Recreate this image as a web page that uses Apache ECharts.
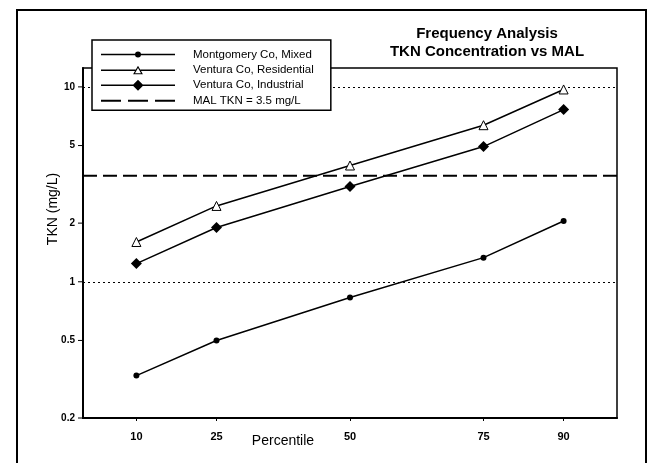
<!DOCTYPE html>
<html>
<head>
<meta charset="utf-8">
<script src="https://cdn.jsdelivr.net/npm/echarts@6/dist/echarts.min.js"></script>
<style>html,body{margin:0;padding:0;background:#fff;}#c{width:657px;height:463px;}</style>
</head>
<body>
<div id="c"></div>
<script>
const percentiles = [10, 25, 50, 75, 90];
const montgomery = [0.33, 0.5, 0.83, 1.33, 2.05];
const residential = [1.6, 2.45, 3.95, 6.36, 9.7];
const industrial = [1.24, 1.9, 3.08, 4.94, 7.65];
const malValue = 3.5;
const yTickLabels = [0.2, 0.5, 1, 2, 5, 10];
const xTickLabels = [10, 25, 50, 75, 90];
const refLines = [1, 10];
const seriesNames = ['Montgomery Co, Mixed', 'Ventura Co, Residential', 'Ventura Co, Industrial', 'MAL TKN = 3.5 mg/L'];

const FONT = 'Liberation Sans, Arial, sans-serif';
const pairs = vals => percentiles.map((p, i) => [p, vals[i]]);

// legend glyphs (line + marker), drawn in a 74 x 12 box
const iconCircle = 'path://M0,5.25H74V6.75H0Z M34,6A3,3 0 1,1 40,6A3,3 0 1,1 34,6Z';
const iconTriangle = 'path://M0,5.25H34.6V6.75H0Z M39.4,5.25H74V6.75H39.4Z M37,1.5L41.9,10L32.1,10Z M37,3.8L34,9L40,9Z';
const iconDiamond = 'path://M0,5.25H74V6.75H0Z M37,0.5L42.5,6L37,11.5L31.5,6Z';
const iconDash = 'path://M0,5H20V7H0Z M27,5H47V7H27Z M54,5H74V7H54Z';
const legendIcons = [iconCircle, iconTriangle, iconDiamond, iconDash];

const chart = echarts.init(document.getElementById('c'));
chart.setOption({
  backgroundColor: '#fff',
  animation: false,
  title: {
    text: 'Frequency Analysis\nTKN Concentration vs MAL',
    left: 482, top: 20, textAlign: 'center',
    textStyle: { fontFamily: FONT, fontSize: 15, fontWeight: 'bold', color: '#000', lineHeight: 18 }
  },
  legend: {
    data: seriesNames.map((n, i) => ({
      name: n, icon: legendIcons[i],
      itemStyle: { color: '#000', borderWidth: 0, borderColor: 'rgba(0,0,0,0)' }
    })),
    orient: 'vertical',
    left: 92, top: 40, z: 10,
    itemWidth: 74, itemHeight: 12, itemGap: 3.4,
    symbolKeepAspect: true,
    padding: [8.5, 17, 3.5, 9],
    borderColor: '#000', borderWidth: 1.5,
    backgroundColor: '#fff',
    textStyle: { fontFamily: FONT, fontSize: 11.5, color: '#000', padding: [0, 0, 0, 13] }
  },
  graphic: [
    { type: 'rect', z: -10, shape: { x: 17, y: 10, width: 629, height: 470 }, style: { fill: 'none', stroke: '#000', lineWidth: 2 } },
    { type: 'text', x: 53, y: 209, rotation: Math.PI / 2, style: { text: 'TKN (mg/L)', font: '14px ' + FONT, fill: '#000', align: 'center', verticalAlign: 'middle' } },
    { type: 'text', x: 283, y: 441, style: { text: 'Percentile', font: '14px ' + FONT, fill: '#000', align: 'center', verticalAlign: 'middle' } }
  ],
  grid: { left: 83, right: 40, top: 68, bottom: 45, show: true, borderColor: '#000', borderWidth: 1.5, containLabel: false },
  xAxis: {
    type: 'value', min: 0, max: 100,
    axisLine: { lineStyle: { color: '#000', width: 2 } },
    axisTick: { show: true, customValues: xTickLabels, length: 3, lineStyle: { color: '#000' } },
    axisLabel: { customValues: xTickLabels, margin: 13, fontFamily: FONT, fontSize: 11, fontWeight: 'bold', color: '#000' },
    splitLine: { show: false }
  },
  yAxis: {
    type: 'log', logBase: 10, min: 0.2, max: 12.5,
    axisLine: { show: true, lineStyle: { color: '#000', width: 2 } },
    axisTick: { show: false },
    axisLabel: { show: false },
    splitLine: { show: false },
    minorTick: { show: false }
  },
  series: [
    {
      name: seriesNames[0], type: 'line', data: pairs(montgomery),
      symbol: 'circle', symbolSize: 6,
      lineStyle: { color: '#000', width: 1.5 }, itemStyle: { color: '#000' },
      markLine: {
        silent: true, symbol: 'none', z: 1, label: { show: false },
        lineStyle: { color: '#000', width: 1, type: [2, 3] },
        data: refLines.map(v => ({ yAxis: v }))
      }
    },
    {
      name: seriesNames[1], type: 'line', data: pairs(residential),
      symbol: 'triangle', symbolSize: 9,
      lineStyle: { color: '#000', width: 1.5 },
      itemStyle: { color: '#fff', borderColor: '#000', borderWidth: 1 }
    },
    {
      name: seriesNames[2], type: 'line', data: pairs(industrial),
      symbol: 'diamond', symbolSize: 11,
      lineStyle: { color: '#000', width: 1.5 }, itemStyle: { color: '#000' }
    },
    {
      name: seriesNames[3], type: 'line', data: [[0, malValue], [100, malValue]],
      symbol: 'none',
      lineStyle: { color: '#000', width: 2, type: [14, 6] }, itemStyle: { color: '#000' }
    },
    {
      type: 'custom', coordinateSystem: 'cartesian2d', clip: false, silent: true,
      data: yTickLabels.map(v => [0, v]),
      renderItem: function (params, api) {
        const v = api.value(1);
        const p = api.coord([0, v]);
        return {
          type: 'group',
          children: [
            { type: 'line', shape: { x1: p[0] - 5, y1: p[1], x2: p[0], y2: p[1] }, style: { stroke: '#000', lineWidth: 1 } },
            { type: 'text', x: p[0] - 8, y: p[1], style: { text: String(v), font: 'bold 10px ' + FONT, fill: '#000', align: 'right', verticalAlign: 'middle' } }
          ]
        };
      }
    }
  ]
});
</script>
</body>
</html>
